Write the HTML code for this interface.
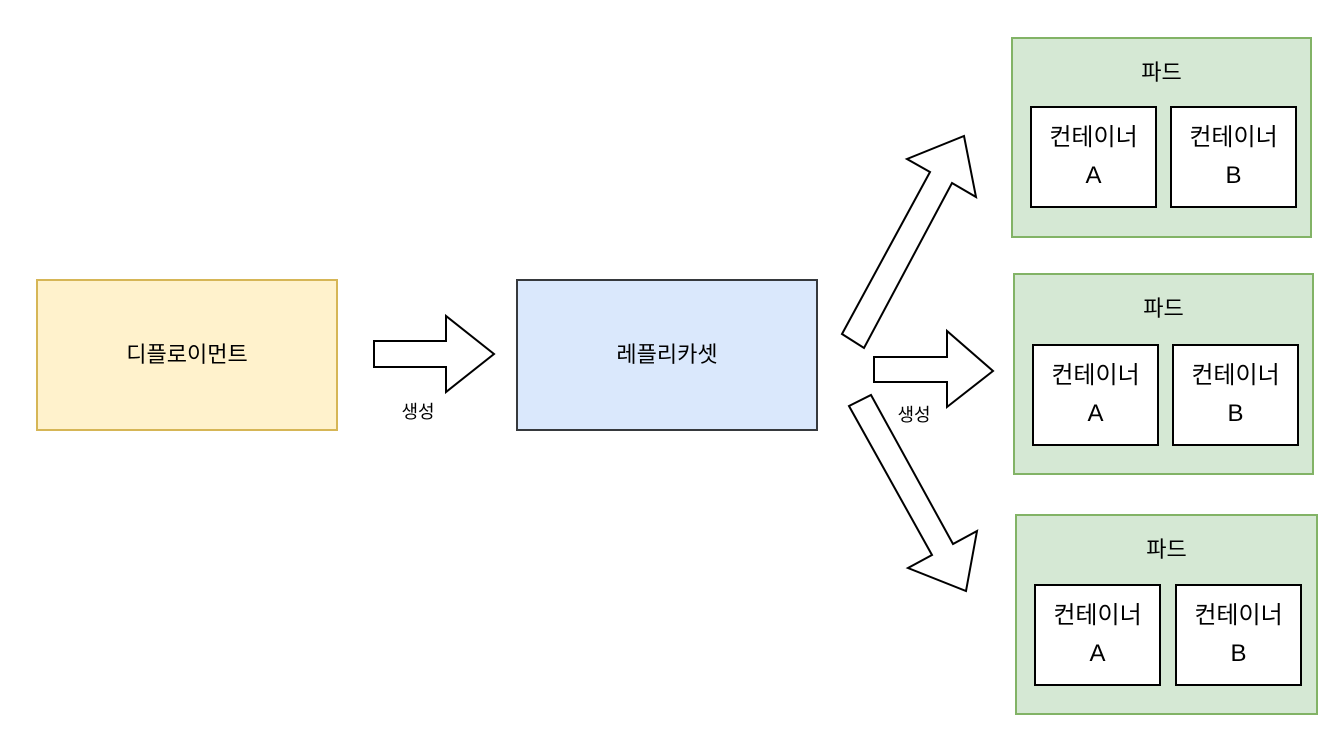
<!DOCTYPE html>
<html><head><meta charset="utf-8"><style>
html,body{margin:0;padding:0;background:#fff;width:1340px;height:740px;overflow:hidden}
svg{display:block}
text{font-family:"Liberation Sans","Noto Sans CJK KR",sans-serif;fill:#000}
</style></head><body>
<svg width="1340" height="740" viewBox="0 0 1340 740" xmlns="http://www.w3.org/2000/svg">
<rect x="37" y="280" width="300" height="150" fill="#fff2cc" stroke="#d6b656" stroke-width="2"/>
<text x="187" y="362" font-size="22" text-anchor="middle">디플로이먼트</text>
<rect x="517" y="280" width="300" height="150" fill="#dae8fc" stroke="#36393d" stroke-width="2"/>
<text x="667" y="362" font-size="22" text-anchor="middle">레플리카셋</text>

<polygon points="374,341 446,341 446,316 494,354 446,392 446,367 374,367" fill="#fff" stroke="#000" stroke-width="2" stroke-linejoin="miter"/>
<text x="418" y="418" font-size="18" text-anchor="middle">생성</text>

<polygon points="874,357 947,357 947,331 993,371 947,407 947,382 874,382" fill="#fff" stroke="#000" stroke-width="2"/>
<text x="914" y="421" font-size="18" text-anchor="middle">생성</text>

<polygon points="842,334 930,172 907,159 964,136 976,197 952,183 864,348" fill="#fff" stroke="#000" stroke-width="2"/>
<polygon points="849,406 871,395 953,544 977,531 966,591 908,568 932,555" fill="#fff" stroke="#000" stroke-width="2"/>

<g transform="translate(1012,38)">
<rect x="0" y="0" width="299" height="199" fill="#d5e8d4" stroke="#82b366" stroke-width="2"/>
<text x="149.5" y="42" font-size="22" text-anchor="middle">파드</text>
<rect x="19" y="69" width="125" height="100" fill="#fff" stroke="#000" stroke-width="2"/>
<text x="81.5" y="107" font-size="24" text-anchor="middle">컨테이너</text>
<text x="81.5" y="145" font-size="24" text-anchor="middle">A</text>
<rect x="159" y="69" width="125" height="100" fill="#fff" stroke="#000" stroke-width="2"/>
<text x="221.5" y="107" font-size="24" text-anchor="middle">컨테이너</text>
<text x="221.5" y="145" font-size="24" text-anchor="middle">B</text>
</g>
<g transform="translate(1014,274)">
<rect x="0" y="0" width="299" height="200" fill="#d5e8d4" stroke="#82b366" stroke-width="2"/>
<text x="149.5" y="42" font-size="22" text-anchor="middle">파드</text>
<rect x="19" y="71" width="125" height="100" fill="#fff" stroke="#000" stroke-width="2"/>
<text x="81.5" y="109" font-size="24" text-anchor="middle">컨테이너</text>
<text x="81.5" y="147" font-size="24" text-anchor="middle">A</text>
<rect x="159" y="71" width="125" height="100" fill="#fff" stroke="#000" stroke-width="2"/>
<text x="221.5" y="109" font-size="24" text-anchor="middle">컨테이너</text>
<text x="221.5" y="147" font-size="24" text-anchor="middle">B</text>
</g>
<g transform="translate(1016,515)">
<rect x="0" y="0" width="301" height="199" fill="#d5e8d4" stroke="#82b366" stroke-width="2"/>
<text x="150.5" y="42" font-size="22" text-anchor="middle">파드</text>
<rect x="19" y="70" width="125" height="100" fill="#fff" stroke="#000" stroke-width="2"/>
<text x="81.5" y="108" font-size="24" text-anchor="middle">컨테이너</text>
<text x="81.5" y="146" font-size="24" text-anchor="middle">A</text>
<rect x="160" y="70" width="125" height="100" fill="#fff" stroke="#000" stroke-width="2"/>
<text x="222.5" y="108" font-size="24" text-anchor="middle">컨테이너</text>
<text x="222.5" y="146" font-size="24" text-anchor="middle">B</text>
</g>
</svg>
</body></html>
